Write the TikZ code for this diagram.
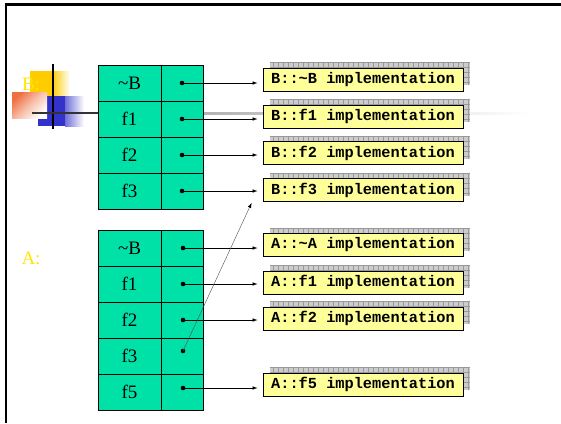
\documentclass[tikz,border=0pt]{standalone}
\usepackage{fontspec}
\setmainfont{Liberation Serif}
\setmonofont{Liberation Mono}
\usetikzlibrary{arrows.meta,calc,shadows}

\definecolor{cellgreen}{HTML}{00E1A8}
\definecolor{implyellow}{HTML}{FFFF99}
\definecolor{labyellow}{HTML}{FFE600}
\definecolor{decoyellow}{HTML}{FFCC00}
\definecolor{decoblue}{HTML}{3333CC}
\definecolor{decored}{HTML}{EE7040}

\tikzset{
  namecell/.style={draw, line width=0.9pt, fill=cellgreen, minimum width=63pt,
    minimum height=36pt, inner sep=0pt, font=\fontsize{19}{19}\selectfont},
  ptrcell/.style={draw, line width=0.9pt, fill=cellgreen, minimum width=42pt,
    minimum height=36pt, inner sep=0pt},
  impl/.style={draw, line width=0.8pt, fill=implyellow, minimum width=200pt,
    minimum height=23pt, inner sep=0pt,
    font=\ttfamily\bfseries\fontsize{15.3}{15.3}\selectfont,
    general shadow={shadow xshift=7pt, shadow yshift=6pt, fill=gray!40,
      path picture={\draw[gray!80, line width=0.6pt, step=5pt]
        (path picture bounding box.south west) grid (path picture bounding box.north east);}}},
  ptr/.style={line width=0.6pt, -{Latex[length=5pt,width=3.5pt]}, shorten >=5pt},
  side/.style={text=labyellow, font=\fontsize{19}{19}\selectfont}
}

\begin{document}
\begin{tikzpicture}[x=1pt,y=-1pt]
\useasboundingbox (0,0) rectangle (561,423);

% slide frame
\draw[line width=2.5pt] (6,423) -- (6,4.5) -- (561,4.5);

% title-bar ornament
\fill[decoyellow] (30,71) rectangle (52,97);
\shade[left color=decoyellow, right color=white] (52,71) rectangle (70,97);
\fill[decoblue] (38,96) rectangle (65,126);
\shade[left color=decoblue!70, right color=white] (65,96) rectangle (84,126);
\begin{scope}[y=1pt]
  \shade[top color=decored, bottom color=white, middle color=decored!45, shading angle=45]
    (12,-118) rectangle (47,-92);
\end{scope}
\node[side] (blab) at (31,84) {B:};
\draw[line width=2pt] (53,64) -- (53,129);
\shade[left color=gray!60, right color=white] (203,112) rectangle (530,114.5);
\draw[line width=2pt, gray!40!black] (32,113) -- (99,113);

\node[side] (alab) at (31,258) {A:};

% vtable of B
\foreach \lab/\y [count=\i] in {\textasciitilde B/83, f1/119, f2/155, f3/191}{
  \node[namecell] (bn\i) at (129.5,\y) {\lab};
  \node[ptrcell] (bp\i) at (182,\y) {};
  \fill (bp\i.center) circle (2.3);
}

% vtable of A
\foreach \lab/\y [count=\i] in {\textasciitilde B/248, f1/284, f2/320, f3/356, f5/392}{
  \node[namecell] (an\i) at (129.5,\y) {\lab};
  \node[ptrcell] (ap\i) at (182,\y) {};
}
\coordinate (ad1) at (183,248);
\coordinate (ad2) at (183,284);
\coordinate (ad3) at (183,320);
\coordinate (ad4) at (183,351);
\coordinate (ad5) at (183,388);
\foreach \i in {1,...,5}{\fill (ad\i) circle (2.3);}

% implementations
\node[impl] (bi1) at (363,79.5) {B::\textasciitilde B implementation};
\node[impl] (bi2) at (363,116.5) {B::f1 implementation};
\node[impl] (bi3) at (363,153) {B::f2 implementation};
\node[impl] (bi4) at (363,190) {B::f3 implementation};
\node[impl] (ai1) at (363,245) {A::\textasciitilde A implementation};
\node[impl] (ai2) at (363,282.5) {A::f1 implementation};
\node[impl] (ai3) at (363,318.5) {A::f2 implementation};
\node[impl] (ai5) at (363,384.5) {A::f5 implementation};

% pointers
\foreach \i in {1,...,4}{\draw[ptr] (bp\i.center) -- (bp\i.center -| bi\i.west);}
\draw[ptr] (ad1) -- (ad1 -| ai1.west);
\draw[ptr] (ad2) -- (ad2 -| ai2.west);
\draw[ptr] (ad3) -- (ad3 -| ai3.west);
\draw[ptr] (ad5) -- (ad5 -| ai5.west);
\coordinate (inh) at ($(bi4.south west)+(-11,1)$);
\draw[line width=0.4pt, gray!60!black, -{Latex[length=5pt,width=3.5pt,black]}] (ad4) -- (inh);
\end{tikzpicture}
\end{document}
